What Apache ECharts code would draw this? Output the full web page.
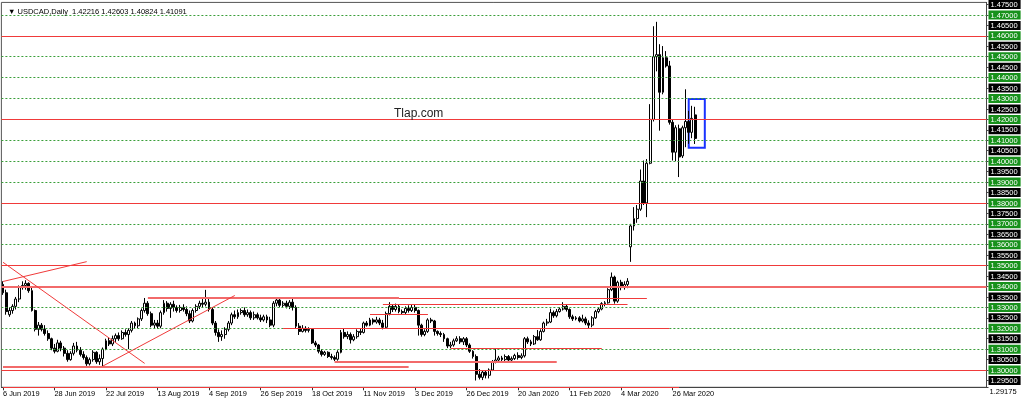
<!DOCTYPE html>
<html><head><meta charset="utf-8">
<script src="https://cdn.jsdelivr.net/npm/echarts@6/dist/echarts.min.js"></script>
<style>html,body{margin:0;padding:0;background:#fff;}#c{width:1024px;height:407px;}</style>
</head><body><div id="c"></div>
<script>
// [open, close, low, high]
const jun2019 = [
[1.3410,1.3370,1.3360,1.3425],[1.3370,1.3280,1.3265,1.3385],[1.3265,1.3285,1.3255,1.3300],[1.3285,1.3305,1.3270,1.3315],
[1.3305,1.3340,1.3290,1.3350],[1.3340,1.3395,1.3325,1.3405],[1.3395,1.3405,1.3385,1.3425],[1.3405,1.3415,1.3385,1.3430],
[1.3415,1.3380,1.3370,1.3420],[1.3380,1.3285,1.3280,1.3400],[1.3285,1.3195,1.3185,1.3290],[1.3195,1.3215,1.3165,1.3230],
[1.3215,1.3195,1.3185,1.3225],[1.3195,1.3175,1.3165,1.3215],[1.3175,1.3150,1.3140,1.3190],[1.3150,1.3105,1.3095,1.3155],
[1.3105,1.3090,1.3080,1.3125]];
const jul2019 = [
[1.3090,1.3130,1.3085,1.3145],[1.3130,1.3105,1.3090,1.3140],[1.3105,1.3080,1.3065,1.3115],[1.3080,1.3050,1.3040,1.3095],
[1.3050,1.3080,1.3045,1.3090],[1.3080,1.3115,1.3070,1.3130],[1.3115,1.3095,1.3085,1.3135],[1.3095,1.3075,1.3065,1.3110],
[1.3075,1.3060,1.3050,1.3090],[1.3060,1.3030,1.3020,1.3070],[1.3030,1.3050,1.3022,1.3060],[1.3050,1.3085,1.3040,1.3095],
[1.3085,1.3040,1.3030,1.3090],[1.3040,1.3055,1.3025,1.3075],[1.3055,1.3100,1.3017,1.3108],[1.3100,1.3140,1.3095,1.3150],
[1.3140,1.3125,1.3115,1.3155],[1.3125,1.3150,1.3115,1.3165],[1.3150,1.3165,1.3135,1.3175],[1.3165,1.3150,1.3140,1.3180],
[1.3150,1.3180,1.3145,1.3190],[1.3180,1.3170,1.3160,1.3195],[1.3170,1.3190,1.3100,1.3200]];
const aug2019 = [
[1.3190,1.3225,1.3180,1.3235],[1.3225,1.3212,1.3200,1.3232],[1.3212,1.3245,1.3200,1.3252],[1.3245,1.3285,1.3235,1.3295],
[1.3285,1.3320,1.3275,1.3345],[1.3320,1.3270,1.3260,1.3330],[1.3270,1.3215,1.3205,1.3280],[1.3215,1.3225,1.3200,1.3240],
[1.3225,1.3210,1.3198,1.3240],[1.3210,1.3275,1.3200,1.3285],[1.3275,1.3320,1.3265,1.3335],[1.3320,1.3295,1.3280,1.3330],
[1.3295,1.3315,1.3250,1.3325],[1.3315,1.3300,1.3280,1.3332],[1.3300,1.3285,1.3275,1.3310],[1.3285,1.3300,1.3275,1.3312],
[1.3300,1.3290,1.3280,1.3315],[1.3290,1.3270,1.3258,1.3305],[1.3270,1.3235,1.3225,1.3285],[1.3235,1.3285,1.3228,1.3295],
[1.3285,1.3305,1.3275,1.3315],[1.3305,1.3320,1.3292,1.3332]];
const sep2019 = [
[1.3320,1.3315,1.3298,1.3340],[1.3315,1.3325,1.3305,1.3384],[1.3325,1.3290,1.3280,1.3340],[1.3290,1.3225,1.3215,1.3300],
[1.3225,1.3180,1.3165,1.3235],[1.3180,1.3160,1.3135,1.3195],[1.3160,1.3170,1.3140,1.3190],[1.3170,1.3195,1.3150,1.3205],
[1.3195,1.3225,1.3185,1.3235],[1.3225,1.3265,1.3215,1.3275],[1.3265,1.3255,1.3245,1.3285],[1.3255,1.3275,1.3245,1.3290],
[1.3275,1.3285,1.3265,1.3295],[1.3285,1.3265,1.3255,1.3300],[1.3265,1.3275,1.3255,1.3290],[1.3275,1.3250,1.3240,1.3285],
[1.3250,1.3265,1.3240,1.3280],[1.3265,1.3250,1.3242,1.3275],[1.3250,1.3240,1.3230,1.3265],[1.3240,1.3255,1.3232,1.3265],
[1.3255,1.3240,1.3225,1.3265]];
const oct2019 = [
[1.3240,1.3215,1.3205,1.3255],[1.3215,1.3320,1.3205,1.3330],[1.3320,1.3335,1.3305,1.3348],[1.3335,1.3310,1.3300,1.3345],
[1.3310,1.3320,1.3298,1.3330],[1.3320,1.3305,1.3295,1.3332],[1.3305,1.3325,1.3292,1.3335],[1.3325,1.3300,1.3285,1.3345],
[1.3300,1.3210,1.3198,1.3310],[1.3210,1.3185,1.3168,1.3225],[1.3185,1.3200,1.3180,1.3215],[1.3200,1.3190,1.3180,1.3210],
[1.3190,1.3195,1.3180,1.3205],[1.3195,1.3130,1.3125,1.3200],[1.3130,1.3120,1.3110,1.3140],[1.3120,1.3090,1.3080,1.3125],
[1.3090,1.3075,1.3065,1.3100],[1.3075,1.3085,1.3068,1.3092],[1.3085,1.3065,1.3058,1.3090],[1.3065,1.3060,1.3050,1.3078],
[1.3060,1.3052,1.3043,1.3070],[1.3052,1.3085,1.3045,1.3095],[1.3085,1.3180,1.3080,1.3192]];
const nov2019 = [
[1.3180,1.3160,1.3150,1.3198],[1.3160,1.3170,1.3148,1.3185],[1.3170,1.3145,1.3127,1.3180],[1.3145,1.3160,1.3138,1.3172],
[1.3160,1.3185,1.3150,1.3195],[1.3185,1.3180,1.3168,1.3200],[1.3180,1.3225,1.3175,1.3232],[1.3225,1.3215,1.3208,1.3235],
[1.3215,1.3240,1.3210,1.3250],[1.3240,1.3230,1.3218,1.3248],[1.3230,1.3240,1.3222,1.3255],[1.3240,1.3225,1.3215,1.3250],
[1.3225,1.3205,1.3195,1.3240],[1.3205,1.3270,1.3200,1.3280],[1.3270,1.3305,1.3262,1.3325],[1.3305,1.3290,1.3278,1.3315],
[1.3290,1.3305,1.3280,1.3318],[1.3305,1.3280,1.3272,1.3312],[1.3280,1.3275,1.3265,1.3290],[1.3275,1.3295,1.3268,1.3305],
[1.3295,1.3285,1.3275,1.3310]];
const dec2019 = [
[1.3285,1.3300,1.3278,1.3312],[1.3300,1.3285,1.3275,1.3315],[1.3285,1.3215,1.3165,1.3290],[1.3215,1.3170,1.3160,1.3222],
[1.3170,1.3185,1.3162,1.3195],[1.3185,1.3240,1.3178,1.3248],[1.3240,1.3235,1.3225,1.3250],[1.3235,1.3185,1.3165,1.3240],
[1.3185,1.3175,1.3165,1.3190],[1.3175,1.3170,1.3158,1.3185],[1.3170,1.3150,1.3135,1.3178],[1.3150,1.3115,1.3105,1.3155],
[1.3115,1.3120,1.3105,1.3135],[1.3120,1.3140,1.3112,1.3150],[1.3140,1.3150,1.3135,1.3162],[1.3150,1.3135,1.3125,1.3162],
[1.3135,1.3150,1.3120,1.3158],[1.3150,1.3120,1.3110,1.3158],[1.3120,1.3090,1.3082,1.3128],[1.3090,1.3065,1.3055,1.3095],
[1.3065,1.2980,1.2950,1.3075]];
const jan2020 = [
[1.2980,1.2965,1.2955,1.3005],[1.2965,1.2990,1.2952,1.3000],[1.2990,1.2975,1.2960,1.2998],[1.2975,1.3000,1.2960,1.3008],
[1.3000,1.3040,1.2995,1.3048],[1.3040,1.3048,1.3032,1.3103],[1.3048,1.3058,1.3040,1.3068],[1.3058,1.3050,1.3040,1.3068],
[1.3050,1.3065,1.3042,1.3075],[1.3065,1.3048,1.3040,1.3072],[1.3048,1.3055,1.3040,1.3065],[1.3055,1.3070,1.3048,1.3078],
[1.3070,1.3060,1.3050,1.3085],[1.3060,1.3068,1.3052,1.3080],[1.3068,1.3150,1.3060,1.3158],[1.3150,1.3135,1.3125,1.3160],
[1.3135,1.3125,1.3115,1.3145],[1.3125,1.3160,1.3120,1.3168],[1.3160,1.3145,1.3140,1.3192],[1.3145,1.3185,1.3140,1.3195],
[1.3185,1.3225,1.3180,1.3232],[1.3225,1.3230,1.3212,1.3245]];
const feb2020 = [
[1.3230,1.3275,1.3225,1.3294],[1.3275,1.3260,1.3250,1.3285],[1.3260,1.3280,1.3252,1.3292],[1.3280,1.3292,1.3275,1.3300],
[1.3292,1.3305,1.3285,1.3325],[1.3305,1.3290,1.3280,1.3315],[1.3290,1.3255,1.3245,1.3295],[1.3255,1.3245,1.3235,1.3265],
[1.3245,1.3250,1.3238,1.3258],[1.3250,1.3235,1.3228,1.3258],[1.3235,1.3245,1.3228,1.3265],[1.3245,1.3225,1.3215,1.3255],
[1.3225,1.3215,1.3200,1.3238],[1.3215,1.3250,1.3205,1.3258],[1.3250,1.3280,1.3245,1.3288],[1.3280,1.3292,1.3272,1.3300],
[1.3292,1.3318,1.3286,1.3325],[1.3318,1.3322,1.3305,1.3330],[1.3322,1.3385,1.3318,1.3392],[1.3385,1.3445,1.3378,1.3467]];
const mar2020 = [
[1.3445,1.3330,1.3318,1.3452],[1.3330,1.3420,1.3322,1.3428],[1.3420,1.3395,1.3382,1.3432],[1.3395,1.3410,1.3385,1.3425],
[1.3410,1.3425,1.3392,1.3440],[1.3590,1.3690,1.3518,1.3700],[1.3690,1.3725,1.3668,1.3780],[1.3725,1.3770,1.3705,1.3790],
[1.3770,1.3905,1.3762,1.3960],[1.3905,1.3800,1.3790,1.4003],[1.3800,1.3990,1.3732,1.4010],[1.3990,1.4200,1.3985,1.4273],
[1.4200,1.4500,1.4190,1.4646],[1.4500,1.4510,1.4430,1.4667],[1.4510,1.4330,1.4146,1.4560],[1.4330,1.4495,1.4320,1.4551],
[1.4495,1.4456,1.4448,1.4527],[1.4456,1.4186,1.4175,1.4480],[1.4186,1.4043,1.4003,1.4200],[1.4043,1.4160,1.4000,1.4172],
[1.4155,1.4020,1.3924,1.4175],[1.4025,1.4160,1.4015,1.4170]];
const apr2020 = [
[1.4160,1.4190,1.4067,1.4344],[1.4190,1.4138,1.4083,1.4241],[1.4138,1.4205,1.4110,1.4265],[1.42216,1.41091,1.40824,1.42603]];

const tickLabels = ['6 Jun 2019','28 Jun 2019','22 Jul 2019','13 Aug 2019','4 Sep 2019','26 Sep 2019','18 Oct 2019',
  '11 Nov 2019','3 Dec 2019','26 Dec 2019','20 Jan 2020','11 Feb 2020','4 Mar 2020','26 Mar 2020'];
const priceLabels = [1.295,1.300,1.305,1.310,1.315,1.320,1.325,1.330,1.335,1.340,1.345,1.350,1.355,1.360,1.365,
  1.370,1.375,1.380,1.385,1.390,1.395,1.400,1.405,1.410,1.415,1.420,1.425,1.430,1.435,1.440,1.445,1.450,1.455,1.460,
  1.465,1.470,1.475];
const minPriceLabel = [1.29175];
const gridLevels = [1.30,1.31,1.32,1.33,1.34,1.35,1.36,1.37,1.38,1.39,1.40,1.41,1.42,1.43,1.44,1.45,1.46,1.47];
const redLevelsThin = [1.4608,1.4188,1.3780,1.3519,1.2976];
const redLevelsThick = [1.3410];
// [startBar, endBar, price]
const redSegThin = [[123,200,1.3342],[118,194,1.3317],[114,132,1.3265],[87,207,1.3202],[139,186,1.3103],[0,210,1.2919]];
const redSegThick = [[45,123,1.3345],[103,172,1.3040],[0,126,1.3016]];
// [startBar, startPrice, endBar, endPrice]
const trendLines = [[0,1.3424,26,1.3519],[0,1.3516,44,1.3032],[31,1.3019,72,1.3357]];
const blueBox = [[213,1.4298],[218,1.4064]];
const headerText = '\u25BC USDCAD,Daily  1.42216 1.42603 1.40824 1.41091';
const watermark = 'Tlap.com';

const ohlc = [].concat(jun2019,jul2019,aug2019,sep2019,oct2019,nov2019,dec2019,jan2020,feb2020,mar2020,apr2020);

// trading-day categories (weekdays, no Dec 25 / Jan 1), plus empty right margin
const MON = ['Jan','Feb','Mar','Apr','May','Jun','Jul','Aug','Sep','Oct','Nov','Dec'];
const skip = ['2019-12-25','2020-01-01','2020-04-10','2020-12-25'];
const TOTAL = 306;
const categories = [];
let d = new Date(Date.UTC(2019,5,6));
while (categories.length < TOTAL) {
  const wd = d.getUTCDay();
  const iso = d.toISOString().slice(0,10);
  if (wd !== 0 && wd !== 6 && skip.indexOf(iso) < 0) {
    categories.push(d.getUTCDate() + ' ' + MON[d.getUTCMonth()] + ' ' + d.getUTCFullYear());
  }
  d = new Date(d.getTime() + 86400000);
}
const lastBar = ohlc.length - 1;
const showTick = function (idx, val) { return idx <= lastBar && tickLabels.indexOf(categories[idx]) >= 0; };

const FONT = 'Liberation Sans';
const RED = '#f03a3a';
const PINK = '#f26a6a';
const GREEN = '#3a9f3a';
const Y_MIN = 1.29175, Y_MAX = 1.4760;

const mlData = [];
gridLevels.forEach(v => mlData.push({yAxis: v, lineStyle: {color: GREEN, type: [2, 2], width: 1}}));
redLevelsThin.forEach(v => mlData.push({yAxis: v, lineStyle: {color: RED, type: 'solid', width: 1}}));
redLevelsThick.forEach(v => mlData.push({yAxis: v, lineStyle: {color: PINK, type: 'solid', width: 2}}));
redSegThin.forEach(s => mlData.push([{coord: [s[0], s[2]], lineStyle: {color: RED, type: 'solid', width: 1}}, {coord: [s[1], s[2]]}]));
redSegThick.forEach(s => mlData.push([{coord: [s[0], s[2]], lineStyle: {color: PINK, type: 'solid', width: 2}}, {coord: [s[1], s[2]]}]));
trendLines.forEach(t => mlData.push([{coord: [t[0], t[1]], lineStyle: {color: RED, type: 'solid', width: 1}}, {coord: [t[2], t[3]]}]));

const chart = echarts.init(document.getElementById('c'), null, {renderer: 'canvas'});
chart.setOption({
  animation: false,
  backgroundColor: '#ffffff',
  title: [
    {text: headerText, left: 3, top: 3, textStyle: {fontSize: 7.5, fontWeight: 'normal', fontFamily: FONT, color: '#000'}},
    {text: watermark, left: 389, top: 103, textStyle: {fontSize: 12, fontWeight: 'normal', fontFamily: FONT, color: '#222'}}
  ],
  grid: {left: 1, right: 37.5, top: 1.5, bottom: 19.7, show: true, borderColor: '#555', borderWidth: 1, backgroundColor: 'transparent'},
  xAxis: {
    type: 'category', data: categories, boundaryGap: true,
    axisLine: {show: true, lineStyle: {color: '#444', width: 1}},
    axisTick: {show: true, alignWithLabel: true, interval: showTick, length: 3, lineStyle: {color: '#333'}},
    axisLabel: {interval: showTick, align: 'left', margin: 3, fontSize: 7.4, fontFamily: FONT, color: '#000'},
    splitLine: {show: false}
  },
  yAxis: [{
    type: 'value', position: 'right', min: Y_MIN, max: Y_MAX, scale: true,
    splitLine: {show: false},
    axisLine: {show: true, lineStyle: {color: '#444'}},
    axisTick: {show: true, customValues: priceLabels, length: 2, lineStyle: {color: '#444'}},
    axisLabel: {
      customValues: priceLabels, margin: 2, fontSize: 7.5, fontFamily: FONT, showMinLabel: true, showMaxLabel: true,
      formatter: function (v) {
        const s = Number(v).toFixed(5);
        const k = Math.round(v * 1000);
        return (k % 10 === 0 ? '{g|' : '{k|') + s + '}';
      },
      rich: {
        g: {color: '#fff', backgroundColor: '#17911b', padding: [1, 3, 0, 2], fontSize: 7.5, fontFamily: FONT, lineHeight: 8},
        k: {color: '#fff', backgroundColor: '#000', padding: [1, 3, 0, 2], fontSize: 7.5, fontFamily: FONT, lineHeight: 8}
      }
    }
  }, {
    type: 'value', position: 'right', min: Y_MIN, max: Y_MAX, scale: true,
    splitLine: {show: false},
    axisLine: {show: false},
    axisTick: {show: true, customValues: minPriceLabel, length: 2, lineStyle: {color: '#444'}},
    axisLabel: {
      customValues: minPriceLabel, margin: 3, fontSize: 7.5, fontFamily: FONT, color: '#000',
      verticalAlign: 'top', padding: [1, 0, 0, 0],
      showMinLabel: true, showMaxLabel: true,
      formatter: function (v) { return Number(v).toFixed(5); }
    }
  }],
  series: [{
    type: 'candlestick',
    yAxisIndex: 0,
    data: ohlc,
    barWidth: 2.4,
    itemStyle: {color: '#ffffff', color0: '#000000', borderColor: '#000000', borderColor0: '#000000', borderWidth: 1},
    markLine: {silent: true, symbol: ['none', 'none'], label: {show: false}, animation: false, data: mlData},
    markArea: {silent: true, itemStyle: {color: 'rgba(0,0,0,0)', borderColor: '#1a33ff', borderWidth: 2},
      label: {show: false}, data: [[{coord: blueBox[0]}, {coord: blueBox[1]}]]}
  }]
});
</script>
</body></html>
